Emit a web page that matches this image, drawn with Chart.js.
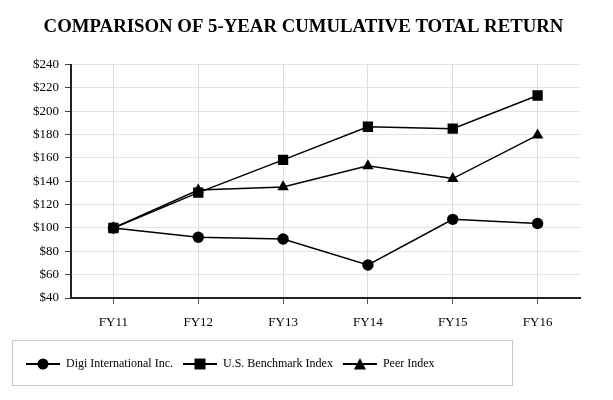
<!DOCTYPE html>
<html>
<head>
<meta charset="utf-8">
<script src="https://cdn.jsdelivr.net/npm/chart.js@4"></script>
<style>
    html, body { margin: 0; padding: 0; background: #fff; }
    #wrap { width: 613px; height: 400px; }
</style>
</head>
<body>
<div id="wrap"><canvas id="returnChart" width="613" height="400"></canvas></div>
<script>
// --- Data ---
const years = ['FY11', 'FY12', 'FY13', 'FY14', 'FY15', 'FY16'];
const digiValues = [100, 92, 90.6, 68.3, 107.4, 103.8];
const benchmarkValues = [100, 130.3, 158.3, 186.7, 185.1, 213.5];
const peerValues = [100, 132.5, 135.2, 153.2, 142.3, 179.5];
const yTicks = [40, 60, 80, 100, 120, 140, 160, 180, 200, 220, 240];

const serif = '"Liberation Serif", "Times New Roman", serif';

// small line + marker swatch for the legend
function legendSwatch(shape) {
    const c = document.createElement('canvas');
    c.width = 36;
    c.height = 14;
    const g = c.getContext('2d');
    g.strokeStyle = '#000';
    g.fillStyle = '#000';
    g.lineWidth = 2;
    g.beginPath();
    g.moveTo(1, 7);
    g.lineTo(35, 7);
    g.stroke();
    g.beginPath();
    if (shape === 'circle') {
        g.arc(18, 7, 5.5, 0, Math.PI * 2);
    } else if (shape === 'rect') {
        g.rect(12.5, 1.5, 11, 11);
    } else {
        g.moveTo(18, 1);
        g.lineTo(24, 12.5);
        g.lineTo(12, 12.5);
        g.closePath();
    }
    g.fill();
    return c;
}

// border around the legend, and nudge the title a bit right
const legendFrame = {
    id: 'legendFrame',
    afterLayout(chart) {
        if (chart.titleBlock) {
            chart.titleBlock.left += 11;
        }
    },
    afterDraw(chart) {
        const lg = chart.legend;
        const ctx = chart.ctx;
        ctx.save();
        ctx.strokeStyle = '#c8c8c8';
        ctx.lineWidth = 1;
        ctx.strokeRect(12.5, lg.top - 7.5, 500, lg.height + 13);
        ctx.restore();
    }
};

function series(label, data, style, radius) {
    return {
        label: label,
        data: data,
        borderColor: '#000',
        backgroundColor: '#000',
        borderWidth: 1.5,
        pointStyle: style,
        pointRadius: radius,
        pointBorderWidth: 0,
        tension: 0,
        fill: false,
        swatch: legendSwatch(style)
    };
}

const ctx = document.getElementById('returnChart').getContext('2d');
const returnChart = new Chart(ctx, {
    type: 'line',
    data: {
        labels: years,
        datasets: [
            series('Digi International Inc.', digiValues, 'circle', 5.7),
            series('U.S. Benchmark Index', benchmarkValues, 'rect', 7.3),
            series('Peer Index', peerValues, 'triangle', 6.6)
        ]
    },
    options: {
        responsive: false,
        animation: false,
        layout: {
            padding: { left: 16, right: 33, top: 0, bottom: 20 }
        },
        plugins: {
            title: {
                display: true,
                text: 'COMPARISON OF 5-YEAR CUMULATIVE TOTAL RETURN',
                color: '#000',
                font: { family: serif, size: 18.8, weight: 'bold' },
                padding: { top: 16, bottom: 26 }
            },
            legend: {
                position: 'bottom',
                align: 'start',
                labels: {
                    color: '#000',
                    font: { family: serif, size: 12 },
                    usePointStyle: true,
                    pointStyleWidth: 34,
                    padding: 10,
                    generateLabels(chart) {
                        return chart.data.datasets.map((ds, i) => ({
                            text: ds.label,
                            pointStyle: ds.swatch,
                            fillStyle: '#000',
                            strokeStyle: '#000',
                            lineWidth: 0,
                            datasetIndex: i,
                            hidden: false
                        }));
                    }
                }
            },
            tooltip: { enabled: false }
        },
        scales: {
            x: {
                offset: true,
                afterFit(scale) {
                    scale.height = 50;
                },
                grid: {
                    color: '#dcdcdc',
                    tickColor: '#555',
                    tickLength: 6,
                    drawTicks: true
                },
                border: { color: '#222', width: 2 },
                ticks: {
                    color: '#000',
                    font: { family: serif, size: 13 },
                    padding: 11
                }
            },
            y: {
                min: 40,
                max: 240,
                afterBuildTicks(scale) {
                    scale.ticks = yTicks.map(v => ({ value: v }));
                },
                afterFit(scale) {
                    scale.width = 55;
                },
                grid: {
                    color: '#e4e4e4',
                    tickColor: '#444',
                    tickLength: 6
                },
                border: { color: '#222', width: 2 },
                ticks: {
                    color: '#000',
                    font: { family: serif, size: 13 },
                    padding: 6,
                    callback: function(value) {
                        return '$' + value;
                    }
                }
            }
        }
    },
    plugins: [legendFrame]
});
</script>
</body>
</html>
